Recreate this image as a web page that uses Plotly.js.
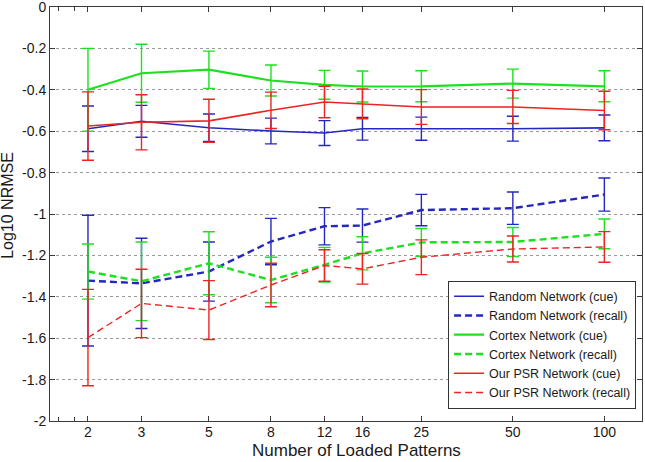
<!DOCTYPE html>
<html>
<head>
<meta charset="utf-8">
<script src="https://cdn.plot.ly/plotly-3.0.1.min.js"></script>
<style>
  html, body { margin: 0; padding: 0; background: #fff; }
  #chart { width: 645px; height: 462px; }
</style>
</head>
<body>
<div id="chart"></div>
<script>
// ── Data ─────────────────────────────────────────────────────
const patterns = [2, 3, 5, 8, 12, 16, 25, 50, 100];

const randomCue      = [-0.588, -0.552, -0.583, -0.599, -0.609, -0.588, -0.588, -0.588, -0.584];
const randomCueErr   = [0.11, 0.077, 0.066, 0.062, 0.06, 0.055, 0.056, 0.06, 0.062];
const randomRecall   = [-1.322, -1.335, -1.278, -1.133, -1.059, -1.056, -0.981, -0.972, -0.906];
const randomRecallErr= [0.316, 0.218, 0.143, 0.112, 0.09, 0.08, 0.076, 0.078, 0.08];

const cortexCue      = [-0.40, -0.32, -0.303, -0.355, -0.376, -0.384, -0.383, -0.37, -0.383];
const cortexCueErr   = [0.20, 0.14, 0.09, 0.075, 0.07, 0.075, 0.075, 0.07, 0.075];
const cortexRecall   = [-1.278, -1.325, -1.238, -1.319, -1.245, -1.19, -1.137, -1.135, -1.096];
const cortexRecallErr= [0.133, 0.19, 0.152, 0.11, 0.084, 0.08, 0.067, 0.07, 0.072];

const psrCue         = [-0.575, -0.557, -0.55, -0.499, -0.459, -0.468, -0.483, -0.483, -0.50];
const psrCueErr      = [0.165, 0.133, 0.104, 0.088, 0.076, 0.072, 0.084, 0.08, 0.093];
const psrRecall      = [-1.597, -1.432, -1.464, -1.343, -1.249, -1.265, -1.209, -1.169, -1.159];
const psrRecallErr   = [0.233, 0.165, 0.142, 0.105, 0.076, 0.074, 0.084, 0.063, 0.074];

const seriesNames = [
  'Random Network (cue)', 'Random Network (recall)',
  'Cortex Network (cue)', 'Cortex Network (recall)',
  'Our PSR Network (cue)', 'Our PSR Network (recall)',
];

const yTicks     = [0, -0.2, -0.4, -0.6, -0.8, -1, -1.2, -1.4, -1.6, -1.8, -2];
const yTickText  = ['0', '-0.2', '-0.4', '-0.6', '-0.8', '-1', '-1.2', '-1.4', '-1.6', '-1.8', '-2'];
const xMinorTicks = [1.6, 1.8];

const xTitle = 'Number of Loaded Patterns';
const yTitle = 'Log10 NRMSE';

// ── Colours ──────────────────────────────────────────────────
const C = {
  blue:  '#2528bf',
  green: '#1ee01e',
  red:   '#f02222',
  axis:  '#3a3a3a',
  grid:  '#9a9a9a',
  text:  '#1a1a1a',
};

function series(name, y, err, color, width, dashed) {
  return {
    type: 'scatter',
    mode: 'lines',
    name,
    x: patterns,
    y,
    line: { color, width, dash: dashed ? '7px,4px' : 'solid' },
    error_y: { type: 'data', array: err, visible: true, color, thickness: 1.4, width: 6 },
  };
}

const traces = [
  series(seriesNames[0], randomCue,    randomCueErr,    C.blue,  1.6, false),
  series(seriesNames[1], randomRecall, randomRecallErr, C.blue,  2.4, true),
  series(seriesNames[2], cortexCue,    cortexCueErr,    C.green, 2.2, false),
  series(seriesNames[3], cortexRecall, cortexRecallErr, C.green, 2.4, true),
  series(seriesNames[4], psrCue,       psrCueErr,       C.red,   1.6, false),
  series(seriesNames[5], psrRecall,    psrRecallErr,    C.red,   1.4, true),
];

const font = 'Liberation Sans, Arial, Helvetica, sans-serif';

// shared axis look (MATLAB-style boxed axes, inward ticks)
const axisBase = {
  tickmode: 'array',
  ticks: 'inside',
  ticklen: 5,
  tickcolor: C.axis,
  ticklabeloverflow: 'allow',
  showline: true,
  linecolor: C.axis,
  linewidth: 1,
  mirror: 'ticks',
  zeroline: false,
};

const layout = {
  width: 645,
  height: 462,
  paper_bgcolor: '#fff',
  plot_bgcolor: '#fff',
  font: { family: font, size: 14, color: C.text },
  margin: { l: 50, r: 3, t: 7, b: 41 },
  showlegend: true,
  xaxis: {
    ...axisBase,
    type: 'log',
    range: [Math.log10(1.5), Math.log10(133)],
    tickvals: patterns,
    ticktext: patterns.map(String),
    ticklabelstandoff: -2,
    showgrid: false,
    minor: { tickmode: 'array', tickvals: xMinorTicks, ticks: 'inside', ticklen: 4, tickcolor: C.axis, showgrid: false },
  },
  yaxis: {
    ...axisBase,
    range: [-2, 0],
    tickvals: yTicks,
    ticktext: yTickText,
    showgrid: true,
    gridcolor: C.grid,
    griddash: 'dot',
    gridwidth: 1,
  },
  annotations: [
    { text: xTitle, xref: 'paper', yref: 'paper', x: 0.518, y: -0.0455,
      xanchor: 'center', yanchor: 'top', borderpad: 0, showarrow: false, font: { size: 17 } },
    { text: yTitle, xref: 'paper', yref: 'paper', x: -0.071, y: 0.522, textangle: -90,
      xanchor: 'center', yanchor: 'middle', showarrow: false, font: { size: 16 } },
  ],
  legend: {
    x: 0.99, xanchor: 'right',
    y: 0.03, yanchor: 'bottom',
    bgcolor: '#fff',
    bordercolor: '#333',
    borderwidth: 1,
    font: { size: 12.5, color: C.text },
    tracegroupgap: 0,
  },
};

Plotly.newPlot('chart', traces, layout, { displayModeBar: false, staticPlot: true });
</script>
</body>
</html>
